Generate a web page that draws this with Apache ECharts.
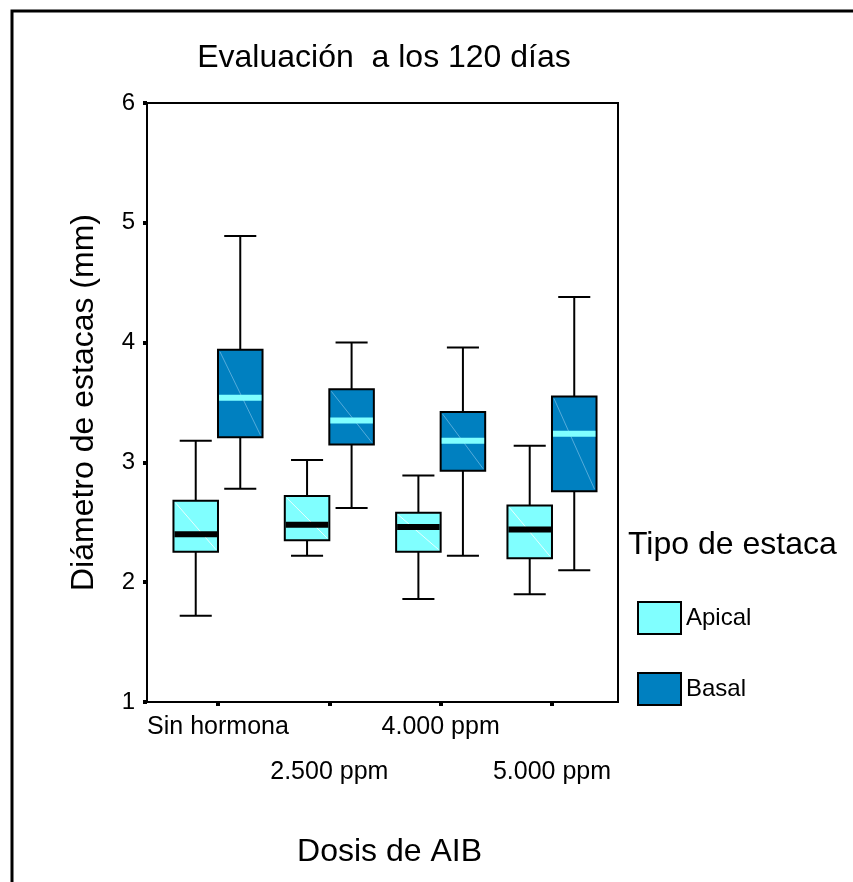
<!DOCTYPE html>
<html>
<head>
<meta charset="utf-8">
<script src="https://cdn.jsdelivr.net/npm/echarts@6/dist/echarts.min.js"></script>
<style>html,body{margin:0;padding:0;background:#fff}#c{width:853px;height:882px}</style>
</head>
<body>
<div id="c"></div>
<script>
// ---- data ----
var categories = ['Sin hormona', '2.500 ppm', '4.000 ppm', '5.000 ppm'];
// [lower whisker, Q1, median, Q3, upper whisker]
var apical = [
  [1.72, 2.255, 2.40, 2.68, 3.18],
  [2.22, 2.35, 2.48, 2.72, 3.02],
  [1.86, 2.255, 2.46, 2.58, 2.89],
  [1.90, 2.20, 2.44, 2.64, 3.14]
];
var basal = [
  [2.78, 3.21, 3.54, 3.94, 4.89],
  [2.62, 3.15, 3.35, 3.61, 4.00],
  [2.22, 2.93, 3.18, 3.42, 3.96],
  [2.10, 2.76, 3.24, 3.55, 4.38]
];
var yTicks = [1, 2, 3, 4, 5, 6];
var rowA = [1, 3]; // category positions labelled on the first row
var rowB = [2, 4]; // category positions labelled on the second row

var FONT = 'Liberation Sans, Arial, Helvetica, sans-serif';
var colors = {Apical: '#80FFFF', Basal: '#0080C0'};

function toData(arr) {
  return arr.map(function (d, i) { return [i + 1].concat(d); });
}

function makeRender(offset, fill, medianColor, diagColor) {
  return function (params, api) {
    var x = api.value(0) + offset;
    var pLo = api.coord([x, api.value(1)]);
    var pQ1 = api.coord([x, api.value(2)]);
    var pMed = api.coord([x, api.value(3)]);
    var pQ3 = api.coord([x, api.value(4)]);
    var pHi = api.coord([x, api.value(5)]);
    var w = api.size([0.4, 0])[0];
    var cw = w * 0.72;
    var cx = pMed[0];
    var lineStyle = {stroke: '#000', lineWidth: 2};
    var left = cx - w / 2;
    return {
      type: 'group',
      children: [
        {type: 'line', shape: {x1: cx, y1: pHi[1], x2: cx, y2: pQ3[1]}, style: lineStyle},
        {type: 'line', shape: {x1: cx, y1: pQ1[1], x2: cx, y2: pLo[1]}, style: lineStyle},
        {type: 'line', shape: {x1: cx - cw / 2, y1: pHi[1], x2: cx + cw / 2, y2: pHi[1]}, style: lineStyle},
        {type: 'line', shape: {x1: cx - cw / 2, y1: pLo[1], x2: cx + cw / 2, y2: pLo[1]}, style: lineStyle},
        {type: 'rect', shape: {x: left, y: pQ3[1], width: w, height: pQ1[1] - pQ3[1]},
         style: {fill: fill, stroke: '#000', lineWidth: 2}},
        {type: 'line', shape: {x1: left + 2, y1: pQ3[1] + 2, x2: left + w - 2, y2: pQ1[1] - 2},
         style: {stroke: diagColor, lineWidth: 1}},
        {type: 'rect', shape: {x: left + 1, y: pMed[1] - 3, width: w - 2, height: 6},
         style: {fill: medianColor}}
      ]
    };
  };
}

function catLabel(v) { return categories[Math.round(v) - 1]; }

var X_MIN = 0.3623, X_MAX = 4.593;

var chart = echarts.init(document.getElementById('c'), null, {renderer: 'canvas'});
chart.setOption({
  animation: false,
  backgroundColor: '#fff',
  textStyle: {fontFamily: FONT, color: '#000'},
  title: [
    {text: 'Evaluación  a los 120 días', left: 384, top: 42, textAlign: 'center', padding: 0,
     textStyle: {fontFamily: FONT, fontSize: 32, fontWeight: 'normal', color: '#000'}},
    {text: 'Tipo de estaca', left: 628, top: 529, padding: 0,
     textStyle: {fontFamily: FONT, fontSize: 32, fontWeight: 'normal', color: '#000'}}
  ],
  legend: {
    orient: 'vertical', left: 637, top: 601, padding: 0,
    itemWidth: 43, itemHeight: 32, itemGap: 37,
    textStyle: {fontFamily: FONT, fontSize: 24, color: '#000'},
    data: [
      {name: 'Apical', icon: 'rect', itemStyle: {color: colors.Apical, borderColor: '#000', borderWidth: 2}},
      {name: 'Basal', icon: 'rect', itemStyle: {color: colors.Basal, borderColor: '#000', borderWidth: 2}}
    ]
  },
  grid: {left: 147, right: 235, top: 103, bottom: 180, show: true, borderColor: '#000', borderWidth: 2,
         backgroundColor: 'transparent'},
  xAxis: [
    {
      type: 'value', min: X_MIN, max: X_MAX, position: 'bottom',
      name: 'Dosis de AIB', nameLocation: 'middle', nameGap: 134,
      nameTextStyle: {fontFamily: FONT, fontSize: 32, color: '#000', padding: [0, 0, 0, 14]},
      axisLine: {show: true, lineStyle: {color: '#000', width: 2}},
      axisTick: {show: true, customValues: rowA, length: 4, lineStyle: {color: '#000', width: 4}},
      splitLine: {show: false},
      axisLabel: {
        customValues: rowA, margin: 3, lineHeight: 45,
        showMinLabel: true, showMaxLabel: true, hideOverlap: false,
        fontFamily: FONT, fontSize: 25, color: '#000', formatter: catLabel
      }
    },
    {
      type: 'value', min: X_MIN, max: X_MAX, position: 'bottom', offset: 0,
      axisLine: {show: false},
      axisTick: {show: true, customValues: rowB, length: 4, lineStyle: {color: '#000', width: 4}},
      splitLine: {show: false},
      axisLabel: {
        customValues: rowB, margin: 48, lineHeight: 45,
        showMinLabel: true, showMaxLabel: true, hideOverlap: false,
        fontFamily: FONT, fontSize: 25, color: '#000', formatter: catLabel
      }
    }
  ],
  yAxis: {
    type: 'value', min: 1, max: 6, interval: 1,
    name: 'Diámetro de estacas (mm)', nameLocation: 'middle', nameGap: 47, nameRotate: 90,
    nameTextStyle: {fontFamily: FONT, fontSize: 32, color: '#000'},
    axisLine: {show: true, lineStyle: {color: '#000', width: 2}},
    axisTick: {show: true, length: 4, lineStyle: {color: '#000', width: 4}},
    splitLine: {show: false},
    axisLabel: {margin: 12, fontFamily: FONT, fontSize: 24, color: '#000',
      formatter: function (v) { return yTicks.indexOf(v) >= 0 ? String(v) : ''; }}
  },
  graphic: [
    {type: 'rect', shape: {x: 12, y: 11, width: 1000, height: 1000}, style: {fill: 'none', stroke: '#000', lineWidth: 3}, silent: true}
  ],
  series: [
    {name: 'Apical', type: 'custom', xAxisIndex: 0, itemStyle: {color: colors.Apical, borderColor: '#000'},
     renderItem: makeRender(-0.2, colors.Apical, '#000', 'rgba(255,255,255,0.8)'),
     encode: {x: 0, y: [1, 2, 3, 4, 5]}, data: toData(apical), clip: false},
    {name: 'Basal', type: 'custom', xAxisIndex: 0, itemStyle: {color: colors.Basal, borderColor: '#000'},
     renderItem: makeRender(0.2, colors.Basal, colors.Apical, 'rgba(120,190,230,0.7)'),
     encode: {x: 0, y: [1, 2, 3, 4, 5]}, data: toData(basal), clip: false}
  ]
});
</script>
</body>
</html>
